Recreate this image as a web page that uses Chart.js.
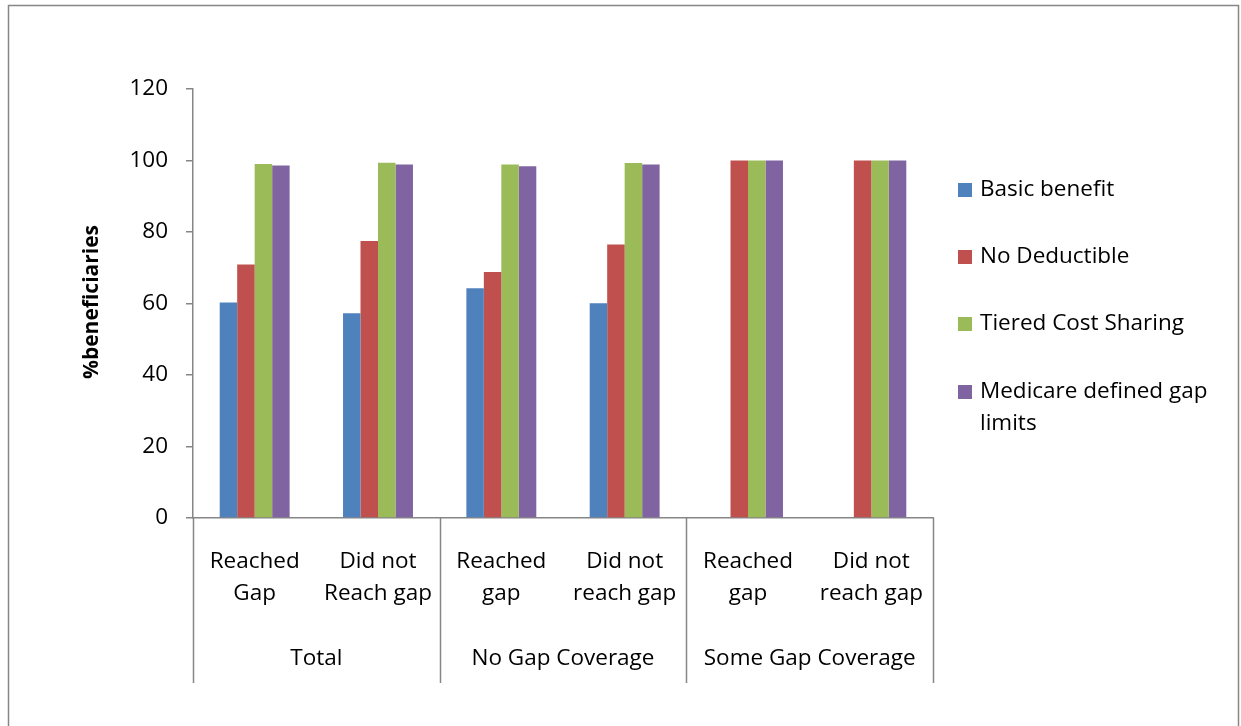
<!DOCTYPE html>
<html>
<head>
<meta charset="utf-8">
<script src="https://cdn.jsdelivr.net/npm/chart.js@4/dist/chart.umd.min.js"></script>
<style>
  html, body { margin: 0; padding: 0; background: #fff; }
  #wrap { width: 1241px; height: 726px; position: relative; }
</style>
</head>
<body>
<div id="wrap"><canvas id="chart" width="1241" height="726"></canvas></div>
<script>
// categories: two-line sub labels + their group
const subLabels = [
  ['Reached', 'Gap'], ['Did not', 'Reach gap'],
  ['Reached', 'gap'], ['Did not', 'reach gap'],
  ['Reached', 'gap'], ['Did not', 'reach gap']
];
const groupLabels = ['Total', 'No Gap Coverage', 'Some Gap Coverage'];
const groupSize = 2;

const seriesNames = ['Basic benefit', 'No Deductible', 'Tiered Cost Sharing', 'Medicare defined gap limits'];
const basicBenefit = [60.3, 57.3, 64.3, 60.1, null, null];
const noDeductible = [70.9, 77.5, 68.8, 76.5, 100, 100];
const tieredCost   = [99.0, 99.4, 98.9, 99.3, 100, 100];
const gapLimits    = [98.6, 98.9, 98.4, 98.9, 100, 100];
const seriesColors = ['#4f81bd', '#c0504d', '#9bbb59', '#8064a2'];

const yTicks = [0, 20, 40, 60, 80, 100, 120];

const FONT = "'Open Sans', 'Noto Sans', sans-serif";
const AXIS_GREY = '#868686';

const decorations = {
  id: 'decorations',
  afterDraw(chart) {
    const { ctx, chartArea, scales } = chart;
    const x = scales.x;
    ctx.save();

    // outer frame
    ctx.strokeStyle = AXIS_GREY;
    ctx.lineWidth = 1.5;
    ctx.strokeRect(8.5, 5.5, 1230, 740);

    // y title
    ctx.fillStyle = '#000';
    ctx.font = "bold 21px " + FONT;
    ctx.textAlign = 'center';
    ctx.textBaseline = 'middle';
    ctx.translate(92, 302);
    ctx.rotate(-Math.PI / 2);
    ctx.fillText('%beneficiaries', 0, 0);
    ctx.setTransform(1, 0, 0, 1, 0, 0);

    // multi-level category labels
    const step = (chartArea.right - chartArea.left) / subLabels.length;
    ctx.font = "22.5px " + FONT;
    ctx.textBaseline = 'middle';
    subLabels.forEach((lines, i) => {
      const cx = x.getPixelForValue(i);
      ctx.fillText(lines[0], cx, 562);
      ctx.fillText(lines[1], cx, 594);
    });
    groupLabels.forEach((g, gi) => {
      const a = x.getPixelForValue(gi * groupSize) - step / 2;
      const b = x.getPixelForValue(gi * groupSize + groupSize - 1) + step / 2;
      ctx.fillText(g, (a + b) / 2, 659);
    });

    // group separators
    ctx.strokeStyle = AXIS_GREY;
    ctx.lineWidth = 1.5;
    for (let gi = 0; gi <= groupLabels.length; gi++) {
      const px = Math.round(x.getPixelForValue(gi * groupSize) - step / 2) + 0.5;
      ctx.beginPath();
      ctx.moveTo(px, chartArea.bottom);
      ctx.lineTo(px, 683);
      ctx.stroke();
    }

    // legend
    ctx.textAlign = 'left';
    const rows = [190, 257, 324, 392];
    chart.data.datasets.forEach((ds, i) => {
      ctx.fillStyle = ds.backgroundColor;
      ctx.fillRect(958, rows[i] - 7, 14, 14);
      ctx.fillStyle = '#000';
      if (i === 3) {
        ctx.fillText('Medicare defined gap', 980, rows[i]);
        ctx.fillText('limits', 980, rows[i] + 32);
      } else {
        ctx.fillText(ds.label, 980, rows[i]);
      }
    });
    ctx.restore();
  }
};

const values = [basicBenefit, noDeductible, tieredCost, gapLimits];

new Chart(document.getElementById('chart'), {
  type: 'bar',
  data: {
    labels: subLabels.map(l => l.join(' ')),
    datasets: seriesNames.map((name, i) => ({
      label: name,
      data: values[i],
      backgroundColor: seriesColors[i],
      borderWidth: 0
    }))
  },
  options: {
    responsive: false,
    animation: false,
    devicePixelRatio: 1,
    layout: { padding: { top: 89, right: 308, bottom: 208, left: 0 } },
    datasets: { bar: { categoryPercentage: 0.567, barPercentage: 1 } },
    plugins: { legend: { display: false }, tooltip: { enabled: false } },
    scales: {
      x: {
        ticks: { display: false },
        grid: { display: false, drawTicks: false },
        border: { color: AXIS_GREY, width: 1.5 },
        afterFit: s => { s.height = 0; }
      },
      y: {
        min: 0, max: 120,
        afterBuildTicks: s => { s.ticks = yTicks.map(v => ({ value: v })); },
        ticks: { color: '#000', font: { family: FONT, size: 22.5 }, padding: 18 },
        grid: { drawOnChartArea: false, drawTicks: true, tickLength: 7, color: AXIS_GREY, lineWidth: 1.5 },
        border: { color: AXIS_GREY, width: 1.5 },
        afterFit: s => { s.width = 193; }
      }
    }
  },
  plugins: [decorations]
});
</script>
</body>
</html>
